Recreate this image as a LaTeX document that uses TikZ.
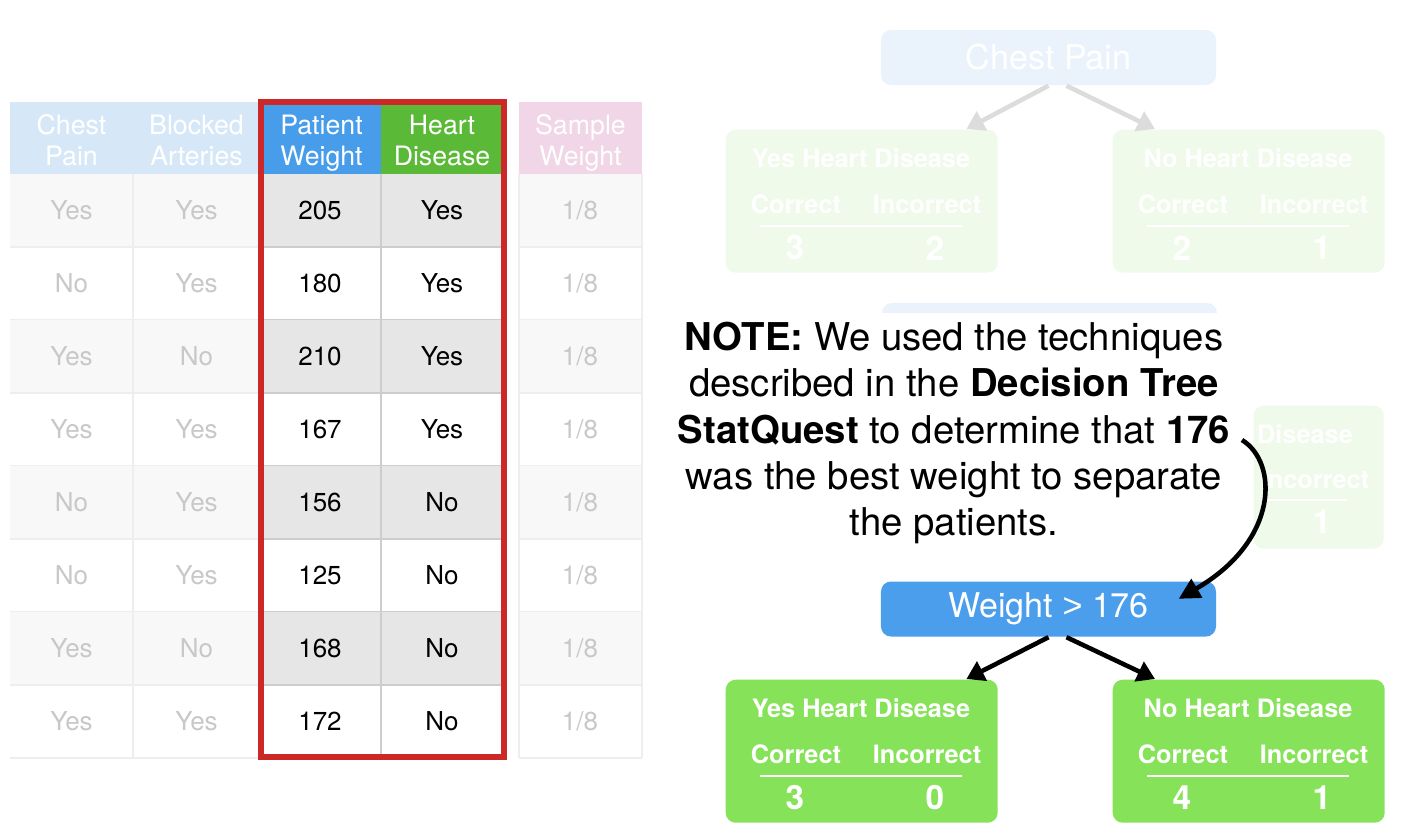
\documentclass[tikz,border=0pt]{standalone}
\usepackage{fontspec}
\setmainfont{TeX Gyre Heros}
\newfontfamily\gtfont{Liberation Sans}
\usetikzlibrary{arrows.meta}

\definecolor{hdrblue}{RGB}{72,157,235}
\definecolor{hdrgreen}{RGB}{90,186,55}
\definecolor{fadeblue}{RGB}{214,232,248}
\definecolor{fadepink}{RGB}{240,214,230}
\definecolor{boxred}{RGB}{204,40,40}
\definecolor{leafgreen}{RGB}{134,226,88}
\definecolor{rootblue}{RGB}{74,158,236}
\definecolor{paleblue}{RGB}{234,243,252}
\definecolor{palegreen}{RGB}{239,250,234}
\definecolor{palearrow}{RGB}{220,220,220}
\definecolor{fadetext}{RGB}{200,200,200}
\definecolor{rowgray}{RGB}{230,230,230}
\definecolor{rowpale}{RGB}{248,248,248}
\definecolor{gridpale}{RGB}{238,238,238}
\definecolor{gridgray}{RGB}{205,205,205}

% leaf: name, top-left corner, title, correct, incorrect, fill
\newcommand{\leafbox}[6]{%
  \node[leaf,fill=#6,anchor=north west] (#1) at (#2) {};
  \node[leaftext] (#1title) at ([xshift=1.36cm,yshift=-0.29cm]#1.north west) {#3};
  \node[leaftext] (#1cor) at ([xshift=0.71cm,yshift=-0.75cm]#1.north west) {Correct};
  \node[leaftext] (#1inc) at ([xshift=2.02cm,yshift=-0.75cm]#1.north west) {Incorrect};
  \draw[white,line width=0.8pt] ([xshift=0.35cm,yshift=-0.97cm]#1.north west) -- ([xshift=2.37cm,yshift=-0.97cm]#1.north west);
  \node[leafnum] (#1a) at ([xshift=0.70cm,yshift=-1.19cm]#1.north west) {#4};
  \node[leafnum] (#1b) at ([xshift=2.10cm,yshift=-1.19cm]#1.north west) {#5};
}

\begin{document}
\begin{tikzpicture}[x=1cm,y=-1cm,
  cell/.style={font=\fontsize{7.4}{8.5}\selectfont},
  fadecell/.style={cell,text=fadetext},
  headcell/.style={align=center,anchor=north,inner sep=0pt,text=white,font=\fontsize{7.6}{8.8}\selectfont},
  treeroot/.style={rounded corners=0.1cm,minimum width=3.35cm,minimum height=0.55cm,inner sep=0pt,text=white,font=\fontsize{9.7}{11}\selectfont},
  leaf/.style={rounded corners=0.1cm,minimum width=2.72cm,minimum height=1.43cm,inner sep=0pt},
  leaftext/.style={text=white,inner sep=0pt,font=\bfseries\fontsize{7.2}{8.6}\selectfont},
  leafnum/.style={text=white,inner sep=0pt,font=\bfseries\fontsize{9.5}{11}\selectfont},
  treearrow/.style={line width=1.3pt,-{Triangle[length=5pt,width=6pt]}}]

\useasboundingbox[fill=white] (0,0) rectangle (14.1,8.36);

% table header
\fill[fadeblue] (0.10,1.02) rectangle (2.60,1.74);
\fill[hdrblue] (2.62,1.02) rectangle (3.81,1.74);
\fill[hdrgreen] (3.81,1.02) rectangle (5.03,1.74);
\fill[fadepink] (5.19,1.02) rectangle (6.42,1.74);

\node[headcell] (hcp) at (0.715,1.14) {Chest\\Pain};
\node[headcell] (hba) at (1.965,1.14) {Blocked\\Arteries};
\node[headcell] (hpw) at (3.215,1.14) {Patient\\Weight};
\node[headcell] (hhd) at (4.42,1.14) {Heart\\Disease};
\node[headcell] (hsw) at (5.805,1.14) {Sample\\Weight};

% table rows
\foreach \cp/\ba/\pw/\hd [count=\i] in {Yes/Yes/205/Yes, No/Yes/180/Yes, Yes/No/210/Yes, Yes/Yes/167/Yes,
    No/Yes/156/No, No/Yes/125/No, Yes/No/168/No, Yes/Yes/172/No}{
  \pgfmathsetmacro{\yt}{1.74+0.73*(\i-1)}
  \pgfmathsetmacro{\yc}{\yt+0.365}
  \ifodd\i
    \fill[rowpale] (0.10,\yt) rectangle (2.60,\yt+0.73);
    \fill[rowgray] (2.62,\yt) rectangle (5.03,\yt+0.73);
    \fill[rowpale] (5.19,\yt) rectangle (6.42,\yt+0.73);
  \fi
  \draw[gridpale] (0.10,\yt+0.73) -- (2.60,\yt+0.73);
  \draw[gridpale] (5.19,\yt+0.73) -- (6.42,\yt+0.73);
  \draw[gridgray] (2.62,\yt+0.73) -- (5.03,\yt+0.73);
  \node[fadecell] (cp\i) at (0.715,\yc) {\cp};
  \node[fadecell] (ba\i) at (1.965,\yc) {\ba};
  \node[cell] (pw\i) at (3.20,\yc) {\pw};
  \node[cell] (hd\i) at (4.42,\yc) {\hd};
  \node[fadecell] (sw\i) at (5.80,\yc) {1/8};
}

\draw[gridpale] (1.33,1.74) -- (1.33,7.58);
\draw[gridpale] (5.19,1.74) -- (5.19,7.58);
\draw[gridpale] (6.42,1.74) -- (6.42,7.58);
\draw[gridgray] (3.81,1.74) -- (3.81,7.57);

\draw[boxred,line width=1.7pt] (2.61,1.02) rectangle (5.04,7.57);

% faded tree
\node[treeroot,fill=paleblue] (chest) at (10.485,0.575) {Chest Pain};
\leafbox{cyes}{7.25,1.29}{Yes Heart Disease}{3}{2}{palegreen}
\leafbox{cno}{11.12,1.29}{No Heart Disease}{2}{1}{palegreen}
\draw[treearrow,palearrow] ([xshift=0cm]chest.south) -- ([xshift=-0.32cm]cyes.north east);
\draw[treearrow,palearrow] ([xshift=0.18cm]chest.south) -- ([xshift=0.43cm]cno.north west);

% second faded tree, mostly hidden by the note
\fill[paleblue,rounded corners=0.1cm] (8.82,3.03) rectangle (12.17,3.60);
\node[leaf,fill=palegreen,anchor=north west,minimum width=1.30cm] (bno) at (12.53,4.05) {};
\node[leaftext] (bnotitle) at (13.05,4.34) {Disease};
\node[leaftext] (bnoinc) at (13.15,4.79) {Incorrect};
\draw[white,line width=0.8pt] (12.62,5.00) -- (13.47,5.00);
\node[leafnum] (bnob) at (13.22,5.22) {1};

\fill[white] (6.60,3.13) rectangle (12.50,5.65);

\node[align=center,font=\fontsize{10.9}{13.1}\selectfont] (note) at (9.54,4.33)
  {\textbf{NOTE:} We used the techniques\\
   described in the \textbf{Decision Tree}\\
   \textbf{StatQuest} to determine that \textbf{176}\\
   was the best weight to separate\\
   the patients.};

% new tree
\node[treeroot,fill=rootblue] (weight) at (10.485,6.09) {Weight {\gtfont >} 176};
\leafbox{wyes}{7.25,6.79}{Yes Heart Disease}{3}{0}{leafgreen}
\leafbox{wno}{11.12,6.79}{No Heart Disease}{4}{1}{leafgreen}
\draw[treearrow] ([xshift=0cm]weight.south) -- ([xshift=-0.32cm]wyes.north east);
\draw[treearrow] ([xshift=0.18cm]weight.south) -- ([xshift=0.43cm]wno.north west);

\coordinate (hook) at (12.42,4.40);
\draw[line width=1.3pt,-{Triangle[length=6pt,width=6pt]}] (hook) .. controls (12.78,4.62) and (12.80,5.40) .. ([xshift=-0.38cm,yshift=-0.18cm]weight.north east);

\end{tikzpicture}
\end{document}
